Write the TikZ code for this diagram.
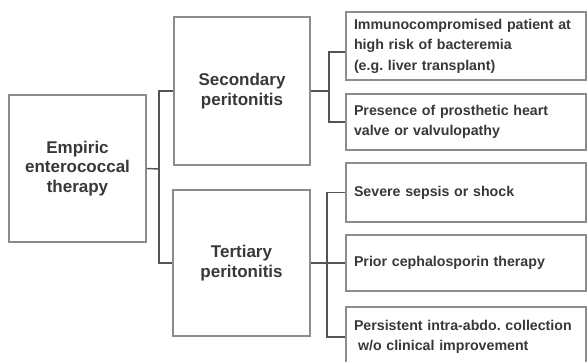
\documentclass[tikz,border=0pt]{standalone}
\usepackage{fontspec}
\setmainfont{Liberation Sans}
\usetikzlibrary{positioning}
\definecolor{boxgray}{rgb}{0.55, 0.55, 0.55}
\definecolor{linegray}{rgb}{0.33, 0.33, 0.33}
\definecolor{textgray}{rgb}{0.22, 0.22, 0.22}

\begin{document}
\begin{tikzpicture}[x=1pt, y=-1pt]
        \tikzstyle{bigbox}=[draw=boxgray, line width=1.2pt, text=textgray, font=\fontsize{17}{19.5}\selectfont\bfseries, align=center, inner sep=0pt]
        \tikzstyle{reason}=[draw=boxgray, line width=1.2pt, text=textgray, font=\fontsize{14.2}{20.5}\selectfont\bfseries, align=left, minimum width=240pt, text width=224pt, inner xsep=8pt, inner ysep=0pt]
        \tikzstyle{link}=[draw=linegray, line width=1.4pt]

        \useasboundingbox (0,0) rectangle (588,361);

        % Root
        \node[bigbox, minimum width=137pt, minimum height=147pt] (emp) at (77.5,168.5) {Empiric\\enterococcal\\therapy};

        % Type of peritonitis
        \node[bigbox, minimum width=136pt, minimum height=148pt] (sec) at (242,91) {Secondary\\peritonitis};
        \node[bigbox, minimum width=137pt, minimum height=146pt] (ter) at (241.5,263) {Tertiary\\peritonitis};

        % Risk situations
        \node[reason, minimum height=68pt] (immuno) at (466,46) {Immunocompromised patient at\\high risk of bacteremia\\(e.g.\ liver transplant)};
        \node[reason, minimum height=56pt] (valve) at (466,122) {Presence of prosthetic heart\\valve or valvulopathy};
        \node[reason, minimum height=59pt] (sepsis) at (466,192.5) {Severe sepsis or shock};
        \node[reason, minimum height=56pt] (ceph) at (466,263) {Prior cephalosporin therapy};
        \node[reason, minimum height=60pt] (collect) at (466,337) {Persistent intra-abdo.\ collection\\\hspace*{4pt}w/o clinical improvement};

        % Branch points
        \coordinate (rootfork) at (159,169);
        \coordinate (secfork) at (329,91);
        \coordinate (terfork) at (327,263);

        % Connectors
        \draw[link] (emp.east) -- (rootfork);
        \draw[link] (sec.west) -| (rootfork) |- (ter.west);
        \draw[link] (sec.east) -- (secfork);
        \draw[link] ([yshift=-6pt]immuno.west) -| (secfork) |- (valve.west);
        \draw[link] (ter.east) -- (terfork);
        \draw[link] (sepsis.west) -| (terfork) |- (collect.west);
        \draw[link] (terfork) -- (ceph.west);
\end{tikzpicture}
\end{document}
